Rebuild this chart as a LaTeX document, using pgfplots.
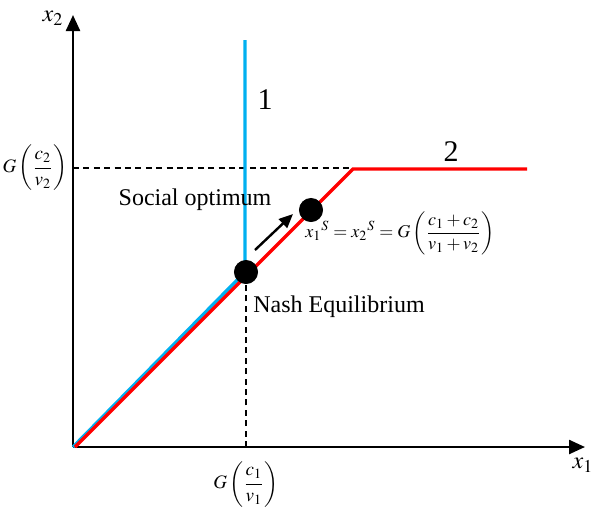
\documentclass[border=0pt]{standalone}
\usepackage{amsmath}
\usepackage{mathptmx}
\usepackage{fontspec}
\setmainfont{Liberation Serif}
\usepackage{pgfplots}
\pgfplotsset{compat=1.18}
\usetikzlibrary{arrows.meta}
\definecolor{lblue}{RGB}{0,176,240}
\definecolor{lred}{RGB}{255,0,0}
\newcommand{\tall}[2]{\dfrac{\rule{0pt}{1.9ex}#1}{#2\rule[-0.8ex]{0pt}{0pt}}}
\begin{document}
\begin{tikzpicture}
\begin{axis}[
    x=0.5pt, y=0.5pt,
    xmin=0, xmax=512, ymin=0, ymax=432,
    axis lines=left,
    axis line style={line width=1.2pt, -{Triangle[width=7pt,length=8pt]}},
    ticks=none,
    clip=false,
    font=\fontsize{12}{14}\selectfont,
]
% page corners
\coordinate (bl) at (axis cs:-73,-64);
\coordinate (tr) at (axis cs:527,447);
% guide lines
\addplot[black, dash pattern=on 3pt off 2.2pt, line width=0.8pt] coordinates {(0,279) (280,279)};
\addplot[black, dash pattern=on 3pt off 2.2pt, line width=0.8pt] coordinates {(173,0) (173,175)};
% reaction curves
\addplot[lblue, line width=1.7pt] coordinates {(0,0) (172,175) (172,407)};
\addplot[lred, line width=1.7pt] coordinates {(2,0) (280,278) (454,278)};
% move from Nash to social optimum
\addplot[black, line width=1.2pt, -{Triangle[width=6pt,length=7pt]}] coordinates {(182,197) (220,233)};
% equilibria
\addplot[only marks, mark=*, mark size=5.8pt, black] coordinates {(173,175) (238,237)};
% labels
\node at (axis cs:-20,429) {$x_2$};
\node at (axis cs:510,-18) {$x_1$};
\node[anchor=east, inner sep=0pt, font=\fontsize{9.5}{11}\selectfont] at (axis cs:-5,279) {$G\left(\tall{c_2}{v_2}\right)$};
\node[anchor=north, inner sep=0pt, font=\fontsize{9.5}{11}\selectfont] at (axis cs:173,-12) {$G\left(\tall{c_1}{v_1}\right)$};
\node at (axis cs:192,347) {\fontsize{15}{17}\selectfont 1};
\node at (axis cs:378,295) {\fontsize{15}{17}\selectfont 2};
\node at (axis cs:122,247) {Social optimum};
\node at (axis cs:266,140) {Nash Equilibrium};
\node[font=\fontsize{9}{11}\selectfont] at (axis cs:327,214) {$x_1{}^S = x_2{}^S = G\left(\tall{c_1+c_2}{v_1+v_2}\right)$};
\end{axis}
\pgfresetboundingbox
\path (bl) rectangle (tr);
\end{tikzpicture}
\end{document}
